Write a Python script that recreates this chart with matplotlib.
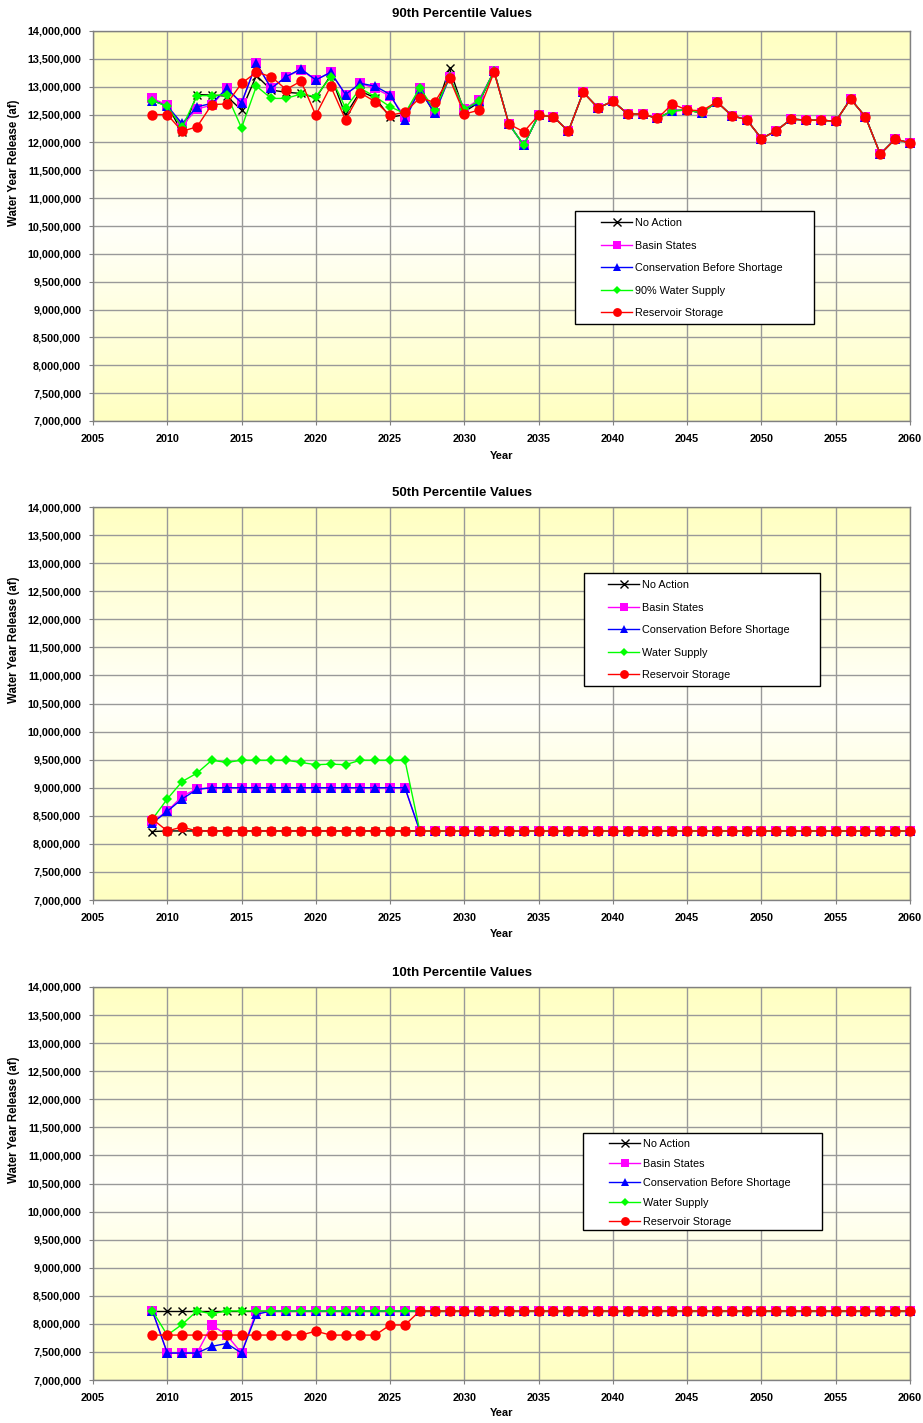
import numpy as np
import matplotlib
matplotlib.use("Agg")
import matplotlib.pyplot as plt
from matplotlib.patches import Rectangle
from matplotlib.ticker import MultipleLocator, StrMethodFormatter

plt.rcParams['font.family'] = ['Liberation Sans', 'DejaVu Sans']

# values in million acre-feet, one per year 2009..2060
years = np.arange(2009, 2061)

# ---- 90th percentile (2009-2033 per series, 2034-2060 tail) ----
p90_noaction = [12.75, 12.67, 12.18, 12.86, 12.85, 12.83, 12.58, 13.20, 12.94, 12.90,
                12.88, 12.80, 13.20, 12.49, 12.92, 12.80, 12.45, 12.50, 12.95, 12.52,
                13.33, 12.55, 12.72, 13.28, 12.33]
p90_basin = [12.79, 12.67, 12.30, 12.60, 12.67, 12.97, 12.70, 13.42, 12.97, 13.18,
             13.30, 13.12, 13.26, 12.86, 13.06, 12.97, 12.83, 12.46, 12.98, 12.52,
             13.17, 12.60, 12.77, 13.28, 12.33]
p90_conserv = [12.75, 12.65, 12.34, 12.64, 12.70, 12.97, 12.71, 13.42, 12.97, 13.18,
               13.32, 13.12, 13.26, 12.86, 13.06, 13.01, 12.86, 12.40, 12.96, 12.52,
               13.17, 12.58, 12.74, 13.28, 12.33]
p90_supply = [12.75, 12.65, 12.27, 12.84, 12.84, 12.86, 12.26, 13.01, 12.79, 12.79,
              12.87, 12.82, 13.18, 12.62, 12.97, 12.82, 12.64, 12.52, 12.98, 12.58,
              13.17, 12.60, 12.74, 13.28, 12.33]
p90_storage = [12.50, 12.50, 12.20, 12.28, 12.68, 12.69, 13.06, 13.26, 13.18, 12.95,
               13.10, 12.49, 13.01, 12.41, 12.89, 12.73, 12.49, 12.54, 12.80, 12.72,
               13.15, 12.51, 12.58, 13.26, 12.33]
p90_tail = [11.95, 12.49, 12.46, 12.20, 12.90, 12.62, 12.74, 12.51, 12.51, 12.43,
            12.57, 12.58, 12.53, 12.73, 12.48, 12.41, 12.07, 12.21, 12.42, 12.40,
            12.40, 12.38, 12.78, 12.46, 11.79, 12.06, 11.99]
p90_tail_storage = [12.19, 12.49, 12.46, 12.20, 12.90, 12.62, 12.74, 12.51, 12.51, 12.43,
                    12.69, 12.58, 12.57, 12.73, 12.48, 12.41, 12.07, 12.21, 12.42, 12.40,
                    12.40, 12.38, 12.78, 12.46, 11.79, 12.06, 11.99]

# ---- 50th percentile (2009-2026 per series, then flat 8.23) ----
p50_noaction = [8.22, 8.23, 8.23, 8.23, 8.23, 8.23, 8.23, 8.23, 8.23, 8.23,
                8.23, 8.23, 8.23, 8.23, 8.23, 8.23, 8.23, 8.23]
p50_basin = [8.40, 8.58, 8.85, 8.98, 9.00, 9.00, 9.00, 9.00, 9.00, 9.00,
             9.00, 9.00, 9.00, 9.00, 9.00, 9.00, 9.00, 9.00]
p50_conserv = [8.37, 8.58, 8.80, 8.97, 9.00, 9.00, 9.00, 9.00, 9.00, 9.00,
               9.00, 9.00, 9.00, 9.00, 9.00, 9.00, 9.00, 9.00]
p50_supply = [8.44, 8.80, 9.11, 9.26, 9.49, 9.45, 9.49, 9.49, 9.49, 9.49,
              9.45, 9.41, 9.42, 9.41, 9.49, 9.49, 9.49, 9.49]
p50_storage = [8.44, 8.23, 8.30, 8.23, 8.23, 8.23, 8.23, 8.23, 8.23, 8.23,
               8.23, 8.23, 8.23, 8.23, 8.23, 8.23, 8.23, 8.23]

# ---- 10th percentile (2009-2026 per series, then flat 8.23) ----
p10_noaction = [8.23, 8.23, 8.23, 8.23, 8.23, 8.23, 8.23, 8.23, 8.23, 8.23,
                8.23, 8.23, 8.23, 8.23, 8.23, 8.23, 8.23, 8.23]
p10_basin = [8.23, 7.48, 7.48, 7.48, 7.98, 7.80, 7.48, 8.23, 8.23, 8.23,
             8.23, 8.23, 8.23, 8.23, 8.23, 8.23, 8.23, 8.23]
p10_conserv = [8.23, 7.48, 7.48, 7.48, 7.60, 7.65, 7.48, 8.17, 8.23, 8.23,
               8.23, 8.23, 8.23, 8.23, 8.23, 8.23, 8.23, 8.23]
p10_supply = [8.23, 7.80, 7.99, 8.23, 8.18, 8.23, 8.23, 8.23, 8.23, 8.23,
              8.23, 8.23, 8.23, 8.23, 8.23, 8.23, 8.23, 8.23]
p10_storage = [7.80, 7.80, 7.80, 7.80, 7.80, 7.80, 7.80, 7.80, 7.80, 7.80,
               7.80, 7.87, 7.80, 7.80, 7.80, 7.80, 7.98, 7.98]

flat_tail = [8.23] * 34  # 2027-2060, all series at 8.23 maf

series_style = [
    dict(color='black', marker='x', ms=6, mew=1.0),
    dict(color='#FF00FF', marker='s', ms=7, mew=0),
    dict(color='#0000FF', marker='^', ms=7.5, mew=0),
    dict(color='#00FF00', marker='D', ms=4.8, mew=0),
    dict(color='#FF0000', marker='o', ms=7.5, mew=0),
]

panels = [
    dict(title="90th Percentile Values",
         data=[p90_noaction + p90_tail, p90_basin + p90_tail, p90_conserv + p90_tail,
               p90_supply + p90_tail, p90_storage + p90_tail_storage],
         labels=["No Action", "Basin States", "Conservation Before Shortage",
                 "90% Water Supply", "Reservoir Storage"]),
    dict(title="50th Percentile Values",
         data=[p50_noaction + flat_tail, p50_basin + flat_tail, p50_conserv + flat_tail,
               p50_supply + flat_tail, p50_storage + flat_tail],
         labels=["No Action", "Basin States", "Conservation Before Shortage",
                 "Water Supply", "Reservoir Storage"]),
    dict(title="10th Percentile Values",
         data=[p10_noaction + flat_tail, p10_basin + flat_tail, p10_conserv + flat_tail,
               p10_supply + flat_tail, p10_storage + flat_tail],
         labels=["No Action", "Basin States", "Conservation Before Shortage",
                 "Water Supply", "Reservoir Storage"]),
]

W, H = 923, 1423
fig = plt.figure(figsize=(W / 100, H / 100), dpi=100)

# pixel layout: axes top/bottom, title y, xlabel y, ylabel y,
# legend box (left, right, top, bottom), first handle x, first row y, row spacing
layout = [
    (31, 421, 14, 456, 163, (575, 814, 211, 324), 601, 224, 1.16),
    (507, 900, 493, 934, 640, (584, 820, 573, 686), 608, 586, 1.16),
    (987, 1380, 973, 1413, 1120, (583, 822, 1133, 1230), 609, 1145, 0.88),
]
x0, x1 = 93, 910

grad_t = np.linspace(0, 1, 256)[:, None]
mid = 1 - np.abs(2 * grad_t - 1)
bg = np.dstack([np.ones_like(grad_t), np.ones_like(grad_t), 0.76 + 0.22 * mid])

for panel, (top, bot, ty, xly, yly, box, hx, ry, lsp) in zip(panels, layout):
    ax = fig.add_axes([x0 / W, 1 - bot / H, (x1 - x0) / W, (bot - top) / H])
    ax.imshow(bg, extent=[0, 1, 0, 1], transform=ax.transAxes, aspect='auto', zorder=0)

    for vals, st, lab in zip(panel['data'], series_style, panel['labels']):
        ax.plot(years, np.array(vals) * 1e6, color=st['color'], lw=1.0,
                marker=st['marker'], ms=st['ms'], mew=st['mew'],
                mfc=st['color'], mec=st['color'], label=lab, clip_on=False, zorder=3)

    ax.set_xlim(2005, 2060)
    ax.set_ylim(7e6, 14e6)
    ax.xaxis.set_major_locator(MultipleLocator(5))
    ax.yaxis.set_major_locator(MultipleLocator(500000))
    ax.yaxis.set_major_formatter(StrMethodFormatter('{x:,.0f}'))
    ax.grid(True, color='#999999', lw=1.0, zorder=1)
    ax.set_axisbelow(True)
    for s in ax.spines.values():
        s.set_color('#808080')
        s.set_linewidth(1.0)
    ax.tick_params(direction='out', length=3, width=0.8, color='#808080', pad=5.5,
                   labelsize=7.8)
    ax.tick_params(axis='x', pad=6.5)
    for t in ax.get_xticklabels() + ax.get_yticklabels():
        t.set_fontweight('bold')

    fig.text(0.5, 1 - ty / H, panel['title'], ha='center', va='center',
             fontsize=9.5, fontweight='bold')
    fig.text((x0 + x1) / 2 / W, 1 - xly / H, "Year", ha='center', va='center',
             fontsize=8, fontweight='bold')
    fig.text(14 / W, 1 - yly / H, "Water Year Release (af)", ha='center', va='center',
             rotation=90, fontsize=8.3, fontweight='bold')

    # legend frame drawn as a plain box, legend entries placed inside it
    bl, br, bt, bb = box
    fig.patches.append(Rectangle((bl / W, 1 - bb / H), (br - bl) / W, (bb - bt) / H,
                                 transform=fig.transFigure, facecolor='white',
                                 edgecolor='black', lw=1.0, zorder=4))
    leg = fig.legend(*ax.get_legend_handles_labels(), loc='upper left',
                     bbox_to_anchor=(hx / W, 1 - (ry - 6) / H),
                     fontsize=7.8, frameon=False, borderpad=0, labelspacing=lsp,
                     handlelength=2.9, handletextpad=0.25, borderaxespad=0,
                     markerscale=0.85)
    leg.set_zorder(5)

fig.savefig("out.png", dpi=100)
